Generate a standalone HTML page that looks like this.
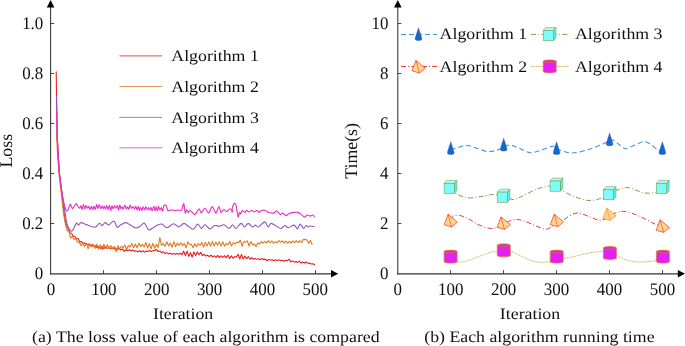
<!DOCTYPE html><html><head><meta charset="utf-8"><title>Figure</title><style>html,body{margin:0;padding:0;background:#fff}svg{display:block;will-change:transform;transform:translateZ(0)}text{text-rendering:geometricPrecision;font-family:"Liberation Serif","Times New Roman",serif;fill:#111}</style></head><body>
<svg width="685" height="346" viewBox="0 0 685 346">
<rect width="685" height="346" fill="#fff"/>
<path d="M56.20,71.70 L56.50,95.00 L56.80,115.00 L57.10,132.00 L57.90,150.00 L59.40,173.00 L63.00,203.25 L64.70,218.31 L66.40,225.15 L68.10,227.83 L69.80,232.83 L71.50,233.26 L73.20,236.09 L74.90,236.52 L76.60,238.70 L78.30,238.81 L80.00,241.96 L81.70,241.62 L83.40,243.56 L85.10,243.12 L86.80,244.71 L88.50,244.13 L90.20,246.05 L91.90,244.64 L93.60,246.40 L95.30,245.75 L97.00,247.50 L98.70,246.43 L100.40,248.33 L102.10,246.38 L103.80,248.67 L105.50,246.82 L107.20,248.47 L108.90,247.24 L110.60,248.43 L112.30,247.83 L114.00,249.07 L115.70,248.07 L117.40,249.69 L119.10,248.23 L120.80,250.04 L122.50,249.06 L124.20,251.30 L125.90,250.05 L127.60,250.69 L129.30,249.68 L131.00,251.02 L132.70,249.97 L134.40,251.39 L136.10,250.85 L137.80,251.92 L139.50,250.74 L141.20,252.01 L142.90,250.77 L144.60,252.15 L146.30,250.91 L148.00,251.57 L149.70,250.45 L151.40,251.62 L153.10,250.61 L154.80,250.47 L156.50,249.34 L158.20,251.66 L159.90,250.85 L161.60,252.72 L163.30,251.85 L165.00,253.52 L166.70,252.62 L168.40,253.85 L170.10,253.18 L171.80,254.25 L173.50,253.39 L175.20,254.34 L176.90,253.53 L178.60,254.29 L180.30,253.29 L182.00,254.74 L183.70,251.10 L185.40,255.46 L187.10,251.14 L188.80,256.42 L190.50,252.75 L192.20,257.01 L193.90,251.94 L195.60,255.58 L197.30,251.88 L199.00,254.85 L200.70,252.37 L202.40,255.58 L204.10,254.47 L205.80,256.04 L207.50,255.17 L209.20,256.63 L210.90,255.18 L212.60,256.91 L214.30,255.83 L216.00,257.36 L217.70,255.46 L219.40,257.64 L221.10,255.79 L222.80,257.33 L224.50,255.60 L226.20,257.83 L227.90,255.07 L229.60,258.63 L231.30,255.87 L233.00,258.25 L234.70,256.58 L236.40,257.29 L238.10,254.40 L239.80,258.98 L241.50,254.34 L243.20,259.00 L244.90,256.00 L246.60,258.60 L248.30,256.57 L250.00,259.25 L251.70,257.65 L253.40,259.25 L255.10,258.56 L256.80,259.24 L258.50,258.83 L260.20,259.79 L261.90,258.43 L263.60,259.57 L265.30,259.10 L267.00,260.74 L268.70,259.56 L270.40,260.24 L272.10,259.67 L273.80,260.63 L275.50,259.82 L277.20,260.64 L278.90,259.73 L280.60,260.64 L282.30,260.30 L284.00,261.41 L285.70,260.31 L287.40,260.63 L289.10,259.17 L290.80,261.84 L292.50,260.86 L294.20,262.15 L295.90,261.43 L297.60,262.42 L299.30,261.18 L301.00,262.97 L302.70,262.08 L304.40,263.08 L306.10,262.02 L307.80,263.25 L309.50,262.94 L311.20,264.02 L312.90,263.69 L314.60,264.67" fill="none" stroke="#ea1c1c" stroke-width="1.1" stroke-linejoin="round" stroke-linecap="round" />
<path d="M56.60,132.00 L57.30,150.00 L58.90,173.00 L63.60,213.75 L65.35,223.99 L67.10,230.44 L68.85,231.42 L70.60,238.01 L72.35,236.36 L74.10,239.44 L75.85,238.61 L77.60,242.30 L79.35,242.38 L81.10,245.58 L82.85,242.95 L84.60,246.43 L86.35,243.40 L88.10,248.83 L89.85,243.89 L91.60,246.83 L93.35,244.28 L95.10,248.42 L96.85,243.98 L98.60,249.01 L100.35,244.64 L102.10,249.63 L103.85,244.26 L105.60,248.44 L107.35,244.75 L109.10,248.27 L110.85,245.47 L112.60,248.49 L114.35,246.41 L116.10,251.84 L117.85,245.74 L119.60,248.99 L121.35,246.36 L123.10,247.71 L124.85,245.04 L126.60,249.83 L128.35,245.48 L130.10,247.01 L131.85,243.52 L133.60,247.66 L135.35,244.08 L137.10,247.82 L138.85,243.38 L140.60,246.59 L142.35,244.34 L144.10,246.96 L145.85,242.40 L147.60,248.15 L149.35,243.50 L151.10,248.82 L152.85,243.21 L154.60,248.29 L156.35,244.24 L158.10,247.52 L159.85,237.59 L161.60,245.46 L163.35,243.41 L165.10,246.43 L166.85,241.73 L168.60,246.02 L170.35,242.86 L172.10,247.20 L173.85,241.61 L175.60,246.79 L177.35,243.02 L179.10,245.35 L180.85,242.80 L182.60,245.78 L184.35,243.35 L186.10,247.80 L187.85,241.92 L189.60,244.50 L191.35,244.19 L193.10,247.70 L194.85,243.62 L196.60,246.69 L198.35,243.58 L200.10,245.30 L201.85,242.33 L203.60,247.16 L205.35,242.21 L207.10,246.10 L208.85,241.85 L210.60,246.38 L212.35,241.37 L214.10,246.02 L215.85,242.08 L217.60,245.16 L219.35,241.63 L221.10,246.10 L222.85,241.66 L224.60,246.17 L226.35,243.37 L228.10,244.79 L229.85,241.59 L231.60,245.92 L233.35,242.37 L235.10,244.04 L236.85,242.19 L238.60,242.56 L240.35,240.15 L242.10,246.24 L243.85,241.81 L245.60,242.12 L247.35,240.92 L249.10,246.01 L250.85,241.54 L252.60,244.86 L254.35,244.11 L256.10,246.62 L257.85,243.04 L259.60,243.91 L261.35,241.60 L263.10,243.02 L264.85,241.32 L266.60,243.09 L268.35,240.65 L270.10,242.76 L271.85,240.93 L273.60,243.29 L275.35,241.75 L277.10,242.79 L278.85,240.66 L280.60,242.18 L282.35,240.80 L284.10,242.97 L285.85,241.04 L287.60,243.12 L289.35,241.50 L291.10,242.97 L292.85,240.95 L294.60,242.58 L296.35,240.71 L298.10,242.72 L299.85,240.71 L301.60,242.74 L303.35,239.40 L305.10,239.59 L306.85,239.75 L308.60,243.37 L310.35,240.45 L312.10,244.45" fill="none" stroke="#e07a1e" stroke-width="1.1" stroke-linejoin="round" stroke-linecap="round" />
<path d="M56.50,95.00 C56.55,98.33 56.70,108.83 56.80,115.00 C56.90,121.17 56.92,126.17 57.10,132.00 C57.28,137.83 57.52,143.17 57.90,150.00 C58.28,156.83 58.65,165.50 59.40,173.00 C60.15,180.50 61.47,188.50 62.40,195.00 C63.33,201.50 64.22,207.08 65.00,212.00 C65.78,216.92 66.35,221.57 67.10,224.50 C67.85,227.43 68.72,228.50 69.50,229.60 C70.28,230.70 71.05,231.37 71.80,231.10 C72.55,230.83 73.23,229.35 74.00,228.00 C74.77,226.65 75.67,223.47 76.40,223.00 C77.13,222.53 77.63,225.27 78.40,225.20 C79.17,225.13 79.68,222.70 81.00,222.60 C82.32,222.50 84.00,223.83 86.30,224.60 C88.60,225.37 92.62,227.42 94.80,227.20 C96.98,226.98 98.20,223.58 99.40,223.30 C100.60,223.02 101.02,225.62 102.00,225.50 C102.98,225.38 104.20,222.68 105.30,222.60 C106.40,222.52 107.17,225.27 108.60,225.00 C110.03,224.73 112.47,220.63 113.90,221.00 C115.33,221.37 116.12,226.53 117.20,227.20 C118.28,227.87 118.98,225.77 120.40,225.00 C121.82,224.23 124.17,222.67 125.70,222.60 C127.23,222.53 127.95,223.72 129.60,224.60 C131.25,225.48 133.83,227.63 135.60,227.90 C137.37,228.17 138.73,226.98 140.20,226.20 C141.67,225.42 143.00,222.58 144.40,223.20 C145.80,223.82 147.15,229.15 148.60,229.90 C150.05,230.65 151.50,228.55 153.10,227.70 C154.70,226.85 156.73,225.40 158.20,224.80 C159.67,224.20 160.43,223.62 161.90,224.10 C163.37,224.58 165.05,227.75 167.00,227.70 C168.95,227.65 171.65,223.92 173.60,223.80 C175.55,223.68 177.00,227.07 178.70,227.00 C180.40,226.93 182.22,223.52 183.80,223.40 C185.38,223.28 186.62,225.33 188.20,226.30 C189.78,227.27 191.72,229.57 193.30,229.20 C194.88,228.83 196.37,224.22 197.70,224.10 C199.03,223.98 200.08,228.38 201.30,228.50 C202.52,228.62 203.53,224.73 205.00,224.80 C206.47,224.87 208.52,228.78 210.10,228.90 C211.68,229.02 212.92,225.93 214.50,225.50 C216.08,225.07 218.03,226.42 219.60,226.30 C221.17,226.18 222.32,224.47 223.90,224.80 C225.48,225.13 227.63,228.30 229.10,228.30 C230.57,228.30 231.58,224.77 232.70,224.80 C233.82,224.83 234.42,228.73 235.80,228.50 C237.18,228.27 239.53,223.65 241.00,223.40 C242.47,223.15 243.40,227.00 244.60,227.00 C245.80,227.00 246.87,223.40 248.20,223.40 C249.53,223.40 251.38,226.72 252.60,227.00 C253.82,227.28 254.52,225.10 255.50,225.10 C256.48,225.10 256.97,227.53 258.50,227.00 C260.03,226.47 263.08,221.90 264.70,221.90 C266.32,221.90 267.17,226.75 268.20,227.00 C269.23,227.25 269.72,223.65 270.90,223.40 C272.08,223.15 273.60,224.65 275.30,225.50 C277.00,226.35 279.53,228.50 281.10,228.50 C282.67,228.50 283.48,225.63 284.70,225.50 C285.92,225.37 286.82,227.77 288.40,227.70 C289.98,227.63 292.70,224.90 294.20,225.10 C295.70,225.30 296.42,229.07 297.40,228.90 C298.38,228.73 299.05,224.17 300.10,224.10 C301.15,224.03 302.73,228.27 303.70,228.50 C304.67,228.73 305.17,225.75 305.90,225.50 C306.63,225.25 307.37,226.92 308.10,227.00 C308.83,227.08 309.20,226.05 310.30,226.00 C311.40,225.95 313.97,226.58 314.70,226.70" fill="none" stroke="#9355c4" stroke-width="1.1" stroke-linejoin="round"/>
<path d="M56.80,111.00 C56.83,113.33 56.98,127.67 57.10,132.00 C57.22,136.33 57.64,145.44 57.90,150.00 C58.16,154.56 58.91,168.00 59.40,173.00 C59.89,178.00 61.64,191.06 62.30,195.00 C62.96,198.94 64.78,206.70 65.30,208.50 C65.82,210.30 66.63,211.22 67.00,211.20 C67.37,211.18 68.23,209.07 68.60,208.30 C68.97,207.53 69.99,204.47 70.30,204.30 C70.61,204.13 71.16,206.32 71.40,206.80 C71.64,207.28 72.17,208.69 72.50,208.60 C72.83,208.51 73.97,206.57 74.40,206.00 C74.83,205.43 76.00,203.44 76.40,203.50 C76.80,203.56 77.63,205.99 78.00,206.50 C78.37,207.01 79.38,208.18 79.70,208.10 C80.02,208.02 80.64,205.60 80.90,205.75 C81.16,205.90 81.79,209.57 82.06,209.44 C82.34,209.31 83.09,204.64 83.39,204.58 C83.69,204.53 84.45,208.89 84.74,208.97 C85.03,209.06 85.71,205.43 86.01,205.35 C86.31,205.26 87.15,208.16 87.43,208.25 C87.72,208.35 88.31,206.06 88.58,206.21 C88.86,206.36 89.64,209.61 89.95,209.63 C90.26,209.65 91.07,206.39 91.39,206.39 C91.70,206.38 92.51,209.62 92.79,209.57 C93.07,209.53 93.67,205.98 93.93,205.98 C94.19,205.97 94.85,209.67 95.16,209.52 C95.46,209.37 96.35,204.69 96.65,204.60 C96.96,204.51 97.64,208.71 97.92,208.71 C98.21,208.71 98.92,204.62 99.22,204.60 C99.51,204.58 100.27,208.38 100.58,208.52 C100.90,208.67 101.79,205.87 102.09,205.90 C102.38,205.93 102.97,208.76 103.23,208.80 C103.48,208.83 104.09,206.19 104.36,206.23 C104.63,206.26 105.38,209.24 105.65,209.13 C105.92,209.03 106.51,205.25 106.79,205.31 C107.07,205.37 107.87,209.68 108.17,209.67 C108.47,209.66 109.23,205.12 109.52,205.24 C109.80,205.35 110.47,210.62 110.74,210.69 C111.00,210.75 111.63,206.03 111.89,205.84 C112.16,205.65 112.83,209.00 113.10,208.97 C113.37,208.93 114.06,205.62 114.36,205.54 C114.67,205.46 115.49,208.22 115.81,208.22 C116.14,208.23 116.99,205.36 117.30,205.58 C117.61,205.81 118.32,210.31 118.58,210.25 C118.85,210.19 119.42,205.22 119.69,205.03 C119.96,204.84 120.70,208.38 120.99,208.57 C121.27,208.76 121.97,206.67 122.23,206.75 C122.50,206.83 123.09,209.47 123.38,209.29 C123.67,209.12 124.51,205.22 124.83,205.18 C125.15,205.14 125.95,208.75 126.25,208.93 C126.55,209.11 127.26,206.76 127.54,206.80 C127.83,206.84 128.54,209.49 128.82,209.31 C129.10,209.12 129.78,205.25 130.09,205.14 C130.39,205.02 131.23,208.07 131.57,208.27 C131.90,208.46 132.76,206.83 133.11,206.90 C133.45,206.97 134.35,208.99 134.65,208.92 C134.95,208.86 135.50,206.15 135.78,206.27 C136.06,206.39 136.87,209.97 137.15,209.99 C137.43,210.00 138.06,206.34 138.32,206.41 C138.57,206.48 139.20,210.52 139.45,210.61 C139.71,210.70 140.30,207.22 140.58,207.20 C140.87,207.18 141.74,210.50 142.03,210.45 C142.32,210.40 142.91,206.80 143.20,206.74 C143.50,206.68 144.41,209.91 144.70,209.89 C144.99,209.86 145.54,206.53 145.82,206.52 C146.10,206.50 146.92,209.63 147.21,209.75 C147.49,209.86 148.13,207.49 148.41,207.55 C148.68,207.61 149.43,210.33 149.71,210.31 C149.99,210.29 150.61,207.34 150.89,207.38 C151.17,207.43 151.91,210.85 152.23,210.71 C152.55,210.58 153.46,206.16 153.78,206.17 C154.10,206.17 154.84,210.73 155.11,210.78 C155.39,210.84 155.98,206.64 156.24,206.66 C156.50,206.68 157.21,210.99 157.48,210.97 C157.74,210.95 158.35,206.55 158.62,206.45 C158.90,206.36 159.64,210.01 159.94,210.13 C160.24,210.25 161.03,207.42 161.32,207.53 C161.60,207.65 162.23,211.38 162.52,211.18 C162.81,210.97 163.48,206.31 163.90,205.68 C164.32,205.06 165.85,205.01 166.28,205.55 C166.70,206.08 167.17,210.02 167.74,210.51 C168.30,211.00 170.58,209.93 171.39,209.93 C172.20,209.93 174.27,210.49 175.04,210.51 C175.80,210.53 177.52,210.11 178.25,210.07 C178.98,210.04 180.99,210.93 181.61,210.22 C182.22,209.51 183.39,203.33 183.80,203.65 C184.20,203.97 184.93,212.49 185.26,213.14 C185.58,213.79 186.39,209.57 186.72,209.49 C187.04,209.41 187.77,212.30 188.18,212.41 C188.58,212.52 189.64,210.27 190.36,210.51 C191.09,210.75 193.77,214.79 194.74,214.60 C195.72,214.40 198.39,208.92 199.12,208.76 C199.85,208.60 200.67,213.22 201.31,213.14 C201.96,213.06 204.15,208.03 204.96,208.03 C205.77,208.03 207.80,213.30 208.61,213.14 C209.42,212.98 211.45,206.57 212.26,206.57 C213.07,206.57 215.18,213.14 215.91,213.14 C216.64,213.14 218.26,206.65 218.83,206.57 C219.40,206.49 220.45,212.08 221.02,212.41 C221.59,212.73 223.29,209.57 223.94,209.49 C224.59,209.41 226.21,211.76 226.86,211.68 C227.51,211.60 229.13,208.84 229.78,208.76 C230.43,208.68 232.48,210.62 232.70,210.95 C232.92,211.27 231.65,212.44 231.75,211.68 C231.86,210.92 233.20,204.90 233.65,204.09 C234.10,203.28 235.35,202.97 235.84,204.38 C236.33,205.79 237.62,215.90 238.03,216.79 C238.43,217.68 239.21,212.73 239.49,212.41 C239.76,212.08 240.19,214.08 240.51,213.87 C240.84,213.66 241.95,210.67 242.41,210.51 C242.86,210.35 244.11,212.44 244.60,212.41 C245.09,212.38 246.30,210.27 246.79,210.22 C247.27,210.17 248.41,211.97 248.98,211.97 C249.55,211.97 251.33,210.22 251.90,210.22 C252.47,210.22 253.52,211.97 254.09,211.97 C254.66,211.97 256.44,210.17 257.01,210.22 C257.58,210.27 258.71,212.38 259.20,212.41 C259.68,212.44 260.74,210.75 261.39,210.51 C262.04,210.27 264.23,210.01 265.04,210.22 C265.85,210.43 267.96,212.12 268.69,212.41 C269.42,212.70 271.04,212.77 271.61,212.85 C272.17,212.93 273.23,213.35 273.80,213.14 C274.36,212.93 275.99,210.79 276.72,210.95 C277.45,211.11 279.72,214.36 280.36,214.60 C281.01,214.84 281.91,213.03 282.55,213.14 C283.20,213.25 285.47,215.59 286.20,215.62 C286.93,215.65 288.23,213.79 289.12,213.43 C290.02,213.07 293.26,212.52 294.23,212.41 C295.21,212.30 297.07,212.17 297.88,212.41 C298.69,212.65 300.80,214.08 301.53,214.60 C302.26,215.12 303.80,217.03 304.45,217.08 C305.10,217.13 306.72,215.15 307.37,215.04 C308.02,214.92 309.64,216.06 310.29,216.06 C310.94,216.06 312.73,214.87 313.21,215.04 C313.70,215.20 314.51,217.24 314.67,217.52" fill="none" stroke="#ee2fc6" stroke-width="1.15" stroke-linejoin="round"/>
<path d="M50.6,274.45 V5" stroke="#333" stroke-width="1.05" fill="none"/>
<path d="M49.980000000000004,273.8 H333.2" stroke="#333" stroke-width="1.15" fill="none"/>
<path d="M50.6,0 L54.4,7.4 L46.800000000000004,7.4 Z" fill="#000"/>
<path d="M338.2,273.8 L331.0,270.1 L331.0,277.5 Z" fill="#000"/>
<path d="M103.5,273.8 v-3.6" stroke="#333" stroke-width="0.9" fill="none"/>
<path d="M156.5,273.8 v-3.6" stroke="#333" stroke-width="0.9" fill="none"/>
<path d="M209.5,273.8 v-3.6" stroke="#333" stroke-width="0.9" fill="none"/>
<path d="M262.5,273.8 v-3.6" stroke="#333" stroke-width="0.9" fill="none"/>
<path d="M315.5,273.8 v-3.6" stroke="#333" stroke-width="0.9" fill="none"/>
<path d="M50.6,223.50 h3.6" stroke="#333" stroke-width="0.9" fill="none"/>
<path d="M50.6,173.50 h3.6" stroke="#333" stroke-width="0.9" fill="none"/>
<path d="M50.6,123.50 h3.6" stroke="#333" stroke-width="0.9" fill="none"/>
<path d="M50.6,73.50 h3.6" stroke="#333" stroke-width="0.9" fill="none"/>
<path d="M50.6,23.50 h3.6" stroke="#333" stroke-width="0.9" fill="none"/>
<text transform="translate(43.30,279.00) scale(0.957,1)" font-size="17.7" text-anchor="end">0</text>
<text transform="translate(43.30,229.00) scale(0.957,1)" font-size="17.7" text-anchor="end">0.2</text>
<text transform="translate(43.30,179.00) scale(0.957,1)" font-size="17.7" text-anchor="end">0.4</text>
<text transform="translate(43.30,129.00) scale(0.957,1)" font-size="17.7" text-anchor="end">0.6</text>
<text transform="translate(43.30,79.00) scale(0.957,1)" font-size="17.7" text-anchor="end">0.8</text>
<text transform="translate(43.30,29.00) scale(0.957,1)" font-size="17.7" text-anchor="end">1.0</text>
<text transform="translate(51.00,295.20) scale(0.957,1)" font-size="17.7" text-anchor="middle">0</text>
<text transform="translate(103.86,295.20) scale(0.957,1)" font-size="17.7" text-anchor="middle">100</text>
<text transform="translate(156.72,295.20) scale(0.957,1)" font-size="17.7" text-anchor="middle">200</text>
<text transform="translate(209.58,295.20) scale(0.957,1)" font-size="17.7" text-anchor="middle">300</text>
<text transform="translate(262.44,295.20) scale(0.957,1)" font-size="17.7" text-anchor="middle">400</text>
<text transform="translate(315.30,295.20) scale(0.957,1)" font-size="17.7" text-anchor="middle">500</text>
<text transform="translate(183.1,319) scale(1.1125,1)" font-size="16.0" text-anchor="middle">Iteration</text>
<text transform="translate(12.1,150.7) rotate(-90) scale(0.999,1)" font-size="17.8" text-anchor="middle">Loss</text>
<text transform="translate(32,341.5) scale(1.1125,1)" font-size="16.0" text-anchor="start">(a) The loss value of each algorithm is compared</text>
<path d="M119.4,55.9 H162.2" stroke="#ea1c1c" stroke-width="1" stroke-opacity="0.8" fill="none"/>
<text transform="translate(171.3,60.9) scale(1.1125,1)" font-size="16.0" text-anchor="start">Algorithm 1</text>
<path d="M119.4,86.5 H162.2" stroke="#e07a1e" stroke-width="1" stroke-opacity="0.8" fill="none"/>
<text transform="translate(171.3,91.9) scale(1.1125,1)" font-size="16.0" text-anchor="start">Algorithm 2</text>
<path d="M119.4,117.4 H162.2" stroke="#9355c4" stroke-width="1" stroke-opacity="0.8" fill="none"/>
<text transform="translate(171.3,122.7) scale(1.1125,1)" font-size="16.0" text-anchor="start">Algorithm 3</text>
<path d="M119.4,147.8 H162.2" stroke="#ee2fc6" stroke-width="1" stroke-opacity="0.8" fill="none"/>
<text transform="translate(171.3,153.4) scale(1.1125,1)" font-size="16.0" text-anchor="start">Algorithm 4</text>
<path d="M397.8,274.45 V5" stroke="#333" stroke-width="1.05" fill="none"/>
<path d="M397.18,273.8 H680" stroke="#333" stroke-width="1.15" fill="none"/>
<path d="M397.8,0 L401.6,7.4 L394.0,7.4 Z" fill="#000"/>
<path d="M685,273.8 L677.8,270.1 L677.8,277.5 Z" fill="#000"/>
<path d="M450.5,273.8 v-3.6" stroke="#333" stroke-width="0.9" fill="none"/>
<path d="M503.5,273.8 v-3.6" stroke="#333" stroke-width="0.9" fill="none"/>
<path d="M556.5,273.8 v-3.6" stroke="#333" stroke-width="0.9" fill="none"/>
<path d="M609.5,273.8 v-3.6" stroke="#333" stroke-width="0.9" fill="none"/>
<path d="M662.5,273.8 v-3.6" stroke="#333" stroke-width="0.9" fill="none"/>
<path d="M397.8,223.50 h3.6" stroke="#333" stroke-width="0.9" fill="none"/>
<path d="M397.8,173.50 h3.6" stroke="#333" stroke-width="0.9" fill="none"/>
<path d="M397.8,123.50 h3.6" stroke="#333" stroke-width="0.9" fill="none"/>
<path d="M397.8,73.50 h3.6" stroke="#333" stroke-width="0.9" fill="none"/>
<path d="M397.8,23.50 h3.6" stroke="#333" stroke-width="0.9" fill="none"/>
<text transform="translate(388.50,279.00) scale(0.957,1)" font-size="17.7" text-anchor="end">0</text>
<text transform="translate(388.50,229.00) scale(0.957,1)" font-size="17.7" text-anchor="end">2</text>
<text transform="translate(388.50,179.00) scale(0.957,1)" font-size="17.7" text-anchor="end">4</text>
<text transform="translate(388.50,129.00) scale(0.957,1)" font-size="17.7" text-anchor="end">6</text>
<text transform="translate(388.50,79.00) scale(0.957,1)" font-size="17.7" text-anchor="end">8</text>
<text transform="translate(388.50,29.00) scale(0.957,1)" font-size="17.7" text-anchor="end">10</text>
<text transform="translate(397.80,295.20) scale(0.957,1)" font-size="17.7" text-anchor="middle">0</text>
<text transform="translate(450.72,295.20) scale(0.957,1)" font-size="17.7" text-anchor="middle">100</text>
<text transform="translate(503.64,295.20) scale(0.957,1)" font-size="17.7" text-anchor="middle">200</text>
<text transform="translate(556.56,295.20) scale(0.957,1)" font-size="17.7" text-anchor="middle">300</text>
<text transform="translate(609.48,295.20) scale(0.957,1)" font-size="17.7" text-anchor="middle">400</text>
<text transform="translate(662.40,295.20) scale(0.957,1)" font-size="17.7" text-anchor="middle">500</text>
<text transform="translate(530,319) scale(1.1125,1)" font-size="16.0" text-anchor="middle">Iteration</text>
<text transform="translate(356.6,150.9) rotate(-90) scale(0.999,1)" font-size="17.8" text-anchor="middle">Time(s)</text>
<text transform="translate(424.2,341.5) scale(1.1125,1)" font-size="16.0" text-anchor="start">(b) Each algorithm running time</text>
<path d="M450.70,149.50 C451.42,149.33 453.12,149.03 455.00,148.50 C456.88,147.97 459.67,146.77 462.00,146.30 C464.33,145.83 466.33,145.32 469.00,145.70 C471.67,146.08 474.92,147.62 478.00,148.60 C481.08,149.58 484.50,151.30 487.50,151.60 C490.50,151.90 493.30,151.08 496.00,150.40 C498.70,149.72 501.87,148.32 503.70,147.50 C505.53,146.68 505.62,145.85 507.00,145.50 C508.38,145.15 509.83,144.85 512.00,145.40 C514.17,145.95 516.93,147.58 520.00,148.80 C523.07,150.02 526.90,152.47 530.40,152.70 C533.90,152.93 537.40,151.25 541.00,150.20 C544.60,149.15 549.38,146.85 552.00,146.40 C554.62,145.95 555.37,146.87 556.70,147.50 C558.03,148.13 557.35,149.28 560.00,150.20 C562.65,151.12 567.60,153.20 572.60,153.00 C577.60,152.80 584.43,150.73 590.00,149.00 C595.57,147.27 602.73,144.02 606.00,142.60 C609.27,141.18 608.35,140.90 609.60,140.50 C610.85,140.10 611.93,139.53 613.50,140.20 C615.07,140.87 616.95,143.08 619.00,144.50 C621.05,145.92 623.13,148.62 625.80,148.70 C628.47,148.78 631.97,146.18 635.00,145.00 C638.03,143.82 641.33,141.68 644.00,141.60 C646.67,141.52 648.67,143.10 651.00,144.50 C653.33,145.90 656.10,149.08 658.00,150.00 C659.90,150.92 661.67,150.00 662.40,150.00" fill="none" stroke="#3f95da" stroke-width="1.1" stroke-linejoin="round" stroke-dasharray="5,3"/>
<path d="M450.70,188.00 C451.58,188.95 453.95,192.27 456.00,193.70 C458.05,195.13 460.67,195.90 463.00,196.60 C465.33,197.30 466.83,197.93 470.00,197.90 C473.17,197.87 478.00,196.98 482.00,196.40 C486.00,195.82 490.33,194.47 494.00,194.40 C497.67,194.33 500.83,195.15 504.00,196.00 C507.17,196.85 510.00,199.45 513.00,199.50 C516.00,199.55 518.17,197.97 522.00,196.30 C525.83,194.63 531.50,191.22 536.00,189.50 C540.50,187.78 545.58,186.50 549.00,186.00 C552.42,185.50 554.33,185.75 556.50,186.50 C558.67,187.25 558.92,188.78 562.00,190.50 C565.08,192.22 570.50,195.13 575.00,196.80 C579.50,198.47 584.50,200.30 589.00,200.50 C593.50,200.70 598.58,199.08 602.00,198.00 C605.42,196.92 607.00,195.33 609.50,194.00 C612.00,192.67 614.12,191.08 617.00,190.00 C619.88,188.92 623.63,187.47 626.80,187.50 C629.97,187.53 632.97,189.28 636.00,190.20 C639.03,191.12 641.83,192.62 645.00,193.00 C648.17,193.38 652.10,193.25 655.00,192.50 C657.90,191.75 661.17,189.17 662.40,188.50" fill="none" stroke="#74a352" stroke-width="1.0" stroke-linejoin="round" stroke-dasharray="5,2.2,1,2.2"/>
<path d="M450.70,220.00 C451.17,219.33 452.03,216.75 453.50,216.00 C454.97,215.25 457.08,215.08 459.50,215.50 C461.92,215.92 464.92,217.00 468.00,218.50 C471.08,220.00 474.45,222.87 478.00,224.50 C481.55,226.13 486.13,227.80 489.30,228.30 C492.47,228.80 494.72,228.05 497.00,227.50 C499.28,226.95 501.17,226.00 503.00,225.00 C504.83,224.00 505.62,222.42 508.00,221.50 C510.38,220.58 513.97,219.33 517.30,219.50 C520.63,219.67 523.47,220.90 528.00,222.50 C532.53,224.10 540.50,228.43 544.50,229.10 C548.50,229.77 549.92,227.52 552.00,226.50 C554.08,225.48 555.17,224.00 557.00,223.00 C558.83,222.00 560.83,221.75 563.00,220.50 C565.17,219.25 567.38,216.75 570.00,215.50 C572.62,214.25 575.37,212.75 578.70,213.00 C582.03,213.25 586.58,215.80 590.00,217.00 C593.42,218.20 596.53,219.95 599.20,220.20 C601.87,220.45 604.03,219.37 606.00,218.50 C607.97,217.63 609.17,216.00 611.00,215.00 C612.83,214.00 614.88,213.10 617.00,212.50 C619.12,211.90 620.87,211.15 623.70,211.40 C626.53,211.65 630.45,212.73 634.00,214.00 C637.55,215.27 641.50,217.33 645.00,219.00 C648.50,220.67 652.10,222.83 655.00,224.00 C657.90,225.17 661.17,225.67 662.40,226.00" fill="none" stroke="#ee3434" stroke-width="1.0" stroke-linejoin="round" stroke-dasharray="5,2.2,1,2.2"/>
<path d="M450.70,258.00 C451.75,258.58 455.28,260.83 457.00,261.50 C458.72,262.17 459.17,262.13 461.00,262.00 C462.83,261.87 464.83,261.70 468.00,260.70 C471.17,259.70 476.33,257.33 480.00,256.00 C483.67,254.67 487.17,253.53 490.00,252.70 C492.83,251.87 494.67,251.45 497.00,251.00 C499.33,250.55 501.72,250.00 504.00,250.00 C506.28,250.00 508.37,250.25 510.70,251.00 C513.03,251.75 514.78,252.97 518.00,254.50 C521.22,256.03 526.33,258.90 530.00,260.20 C533.67,261.50 536.58,262.07 540.00,262.30 C543.42,262.53 547.67,261.98 550.50,261.60 C553.33,261.22 554.85,260.47 557.00,260.00 C559.15,259.53 560.40,259.42 563.40,258.80 C566.40,258.18 570.57,257.30 575.00,256.30 C579.43,255.30 585.33,253.65 590.00,252.80 C594.67,251.95 599.67,251.42 603.00,251.20 C606.33,250.98 607.73,250.88 610.00,251.50 C612.27,252.12 613.93,253.52 616.60,254.90 C619.27,256.28 622.43,258.62 626.00,259.80 C629.57,260.98 634.33,261.70 638.00,262.00 C641.67,262.30 644.92,261.85 648.00,261.60 C651.08,261.35 654.10,261.10 656.50,260.50 C658.90,259.90 661.42,258.42 662.40,258.00" fill="none" stroke="#cfa02f" stroke-width="0.95" stroke-linejoin="round" stroke-dasharray="0.9,0.75"/>
<path d="M450.8,141.7 C451.6,144.7 453.90000000000003,150.6 454.2,153.0 C454.2,155.0 447.40000000000003,155.0 447.40000000000003,153.0 C447.7,150.6 450.0,144.7 450.8,141.7 Z" fill="#0b6ccb" stroke="#5a48b8" stroke-width="0.45"/>
<path d="M503.7,138.2 C504.5,141.2 506.8,147.1 507.09999999999997,149.5 C507.09999999999997,151.5 500.3,151.5 500.3,149.5 C500.59999999999997,147.1 502.9,141.2 503.7,138.2 Z" fill="#0b6ccb" stroke="#5a48b8" stroke-width="0.45"/>
<path d="M556.6,141.7 C557.4,144.7 559.7,150.6 560.0,153.0 C560.0,155.0 553.2,155.0 553.2,153.0 C553.5,150.6 555.8000000000001,144.7 556.6,141.7 Z" fill="#0b6ccb" stroke="#5a48b8" stroke-width="0.45"/>
<path d="M609.6,133.0 C610.4,136.0 612.7,141.9 613.0,144.3 C613.0,146.3 606.2,146.3 606.2,144.3 C606.5,141.9 608.8000000000001,136.0 609.6,133.0 Z" fill="#0b6ccb" stroke="#5a48b8" stroke-width="0.45"/>
<path d="M662.4,141.7 C663.1999999999999,144.7 665.5,150.6 665.8,153.0 C665.8,155.0 659.0,155.0 659.0,153.0 C659.3,150.6 661.6,144.7 662.4,141.7 Z" fill="#0b6ccb" stroke="#5a48b8" stroke-width="0.45"/>
<path d="M444.1,183.3 l2.5,-2.9 h10.2 l-2.5,2.9 Z" fill="#b4fbfb" stroke="#6f9b45" stroke-width="0.55" stroke-linejoin="round"/>
<path d="M454.3,183.3 l2.5,-2.9 v10.2 l-2.5,2.9 Z" fill="#4ff3f3" stroke="#6f9b45" stroke-width="0.55" stroke-linejoin="round"/>
<rect x="444.1" y="183.3" width="10.2" height="10.2" fill="#7ffbfb" stroke="#6f9b45" stroke-width="0.55"/>
<path d="M497.2,192.1 l2.5,-2.9 h10.2 l-2.5,2.9 Z" fill="#b4fbfb" stroke="#6f9b45" stroke-width="0.55" stroke-linejoin="round"/>
<path d="M507.4,192.1 l2.5,-2.9 v10.2 l-2.5,2.9 Z" fill="#4ff3f3" stroke="#6f9b45" stroke-width="0.55" stroke-linejoin="round"/>
<rect x="497.2" y="192.1" width="10.2" height="10.2" fill="#7ffbfb" stroke="#6f9b45" stroke-width="0.55"/>
<path d="M550.1,181.0 l2.5,-2.9 h10.2 l-2.5,2.9 Z" fill="#b4fbfb" stroke="#6f9b45" stroke-width="0.55" stroke-linejoin="round"/>
<path d="M560.3000000000001,181.0 l2.5,-2.9 v10.2 l-2.5,2.9 Z" fill="#4ff3f3" stroke="#6f9b45" stroke-width="0.55" stroke-linejoin="round"/>
<rect x="550.1" y="181.0" width="10.2" height="10.2" fill="#7ffbfb" stroke="#6f9b45" stroke-width="0.55"/>
<path d="M603.3,189.6 l2.5,-2.9 h10.2 l-2.5,2.9 Z" fill="#b4fbfb" stroke="#6f9b45" stroke-width="0.55" stroke-linejoin="round"/>
<path d="M613.5,189.6 l2.5,-2.9 v10.2 l-2.5,2.9 Z" fill="#4ff3f3" stroke="#6f9b45" stroke-width="0.55" stroke-linejoin="round"/>
<rect x="603.3" y="189.6" width="10.2" height="10.2" fill="#7ffbfb" stroke="#6f9b45" stroke-width="0.55"/>
<path d="M656.4,183.3 l2.5,-2.9 h10.2 l-2.5,2.9 Z" fill="#b4fbfb" stroke="#6f9b45" stroke-width="0.55" stroke-linejoin="round"/>
<path d="M666.6,183.3 l2.5,-2.9 v10.2 l-2.5,2.9 Z" fill="#4ff3f3" stroke="#6f9b45" stroke-width="0.55" stroke-linejoin="round"/>
<rect x="656.4" y="183.3" width="10.2" height="10.2" fill="#7ffbfb" stroke="#6f9b45" stroke-width="0.55"/>
<path d="M448.1,214.3 L444.20000000000005,224.70000000000002 L451.6,226.9 L457.40000000000003,222.10000000000002 Z" fill="#ffd88a" stroke="#ee2f2f" stroke-width="0.7" stroke-linejoin="round"/>
<path d="M448.1,214.3 L451.6,226.9" stroke="#ee2f2f" stroke-width="0.6" fill="none"/>
<path d="M501.0,216.9 L497.1,227.3 L504.5,229.5 L510.3,224.70000000000002 Z" fill="#ffd88a" stroke="#ee2f2f" stroke-width="0.7" stroke-linejoin="round"/>
<path d="M501.0,216.9 L504.5,229.5" stroke="#ee2f2f" stroke-width="0.6" fill="none"/>
<path d="M554.2,214.1 L550.3000000000001,224.5 L557.7,226.7 L563.5,221.9 Z" fill="#ffd88a" stroke="#ee2f2f" stroke-width="0.7" stroke-linejoin="round"/>
<path d="M554.2,214.1 L557.7,226.7" stroke="#ee2f2f" stroke-width="0.6" fill="none"/>
<path d="M606.8,208.0 L602.9,218.4 L610.3,220.6 L616.0999999999999,215.8 Z" fill="#ffd48a" stroke="#ee9130" stroke-width="0.7" stroke-linejoin="round"/>
<path d="M606.8,208.0 L610.3,220.6" stroke="#ee9130" stroke-width="0.6" fill="none"/>
<path d="M660.1,219.8 L656.2,230.20000000000002 L663.6,232.4 L669.4,227.60000000000002 Z" fill="#ffd88a" stroke="#ee2f2f" stroke-width="0.7" stroke-linejoin="round"/>
<path d="M660.1,219.8 L663.6,232.4" stroke="#ee2f2f" stroke-width="0.6" fill="none"/>
<path d="M444.1,251.60000000000002 V261.8 A6.5,1.3 0 0 0 457.1,261.8 V251.60000000000002 A6.5,1.3 0 0 0 444.1,251.60000000000002 Z" fill="#e31ff2" stroke="#de7f2e" stroke-width="0.8"/>
<ellipse cx="450.6" cy="251.60000000000002" rx="6.5" ry="1.3" fill="#d727dc" stroke="#de7f2e" stroke-width="0.6"/>
<path d="M497.3,245.3 V255.5 A6.5,1.3 0 0 0 510.3,255.5 V245.3 A6.5,1.3 0 0 0 497.3,245.3 Z" fill="#e31ff2" stroke="#de7f2e" stroke-width="0.8"/>
<ellipse cx="503.8" cy="245.3" rx="6.5" ry="1.3" fill="#d727dc" stroke="#de7f2e" stroke-width="0.6"/>
<path d="M550.2,251.60000000000002 V261.8 A6.5,1.3 0 0 0 563.2,261.8 V251.60000000000002 A6.5,1.3 0 0 0 550.2,251.60000000000002 Z" fill="#e31ff2" stroke="#de7f2e" stroke-width="0.8"/>
<ellipse cx="556.7" cy="251.60000000000002" rx="6.5" ry="1.3" fill="#d727dc" stroke="#de7f2e" stroke-width="0.6"/>
<path d="M603.4,248.0 V258.2 A6.5,1.3 0 0 0 616.4,258.2 V248.0 A6.5,1.3 0 0 0 603.4,248.0 Z" fill="#e31ff2" stroke="#de7f2e" stroke-width="0.8"/>
<ellipse cx="609.9" cy="248.0" rx="6.5" ry="1.3" fill="#d727dc" stroke="#de7f2e" stroke-width="0.6"/>
<path d="M656.4,251.60000000000002 V261.8 A6.5,1.3 0 0 0 669.4,261.8 V251.60000000000002 A6.5,1.3 0 0 0 656.4,251.60000000000002 Z" fill="#e31ff2" stroke="#de7f2e" stroke-width="0.8"/>
<ellipse cx="662.9" cy="251.60000000000002" rx="6.5" ry="1.3" fill="#d727dc" stroke="#de7f2e" stroke-width="0.6"/>
<path d="M401,34.4 H437" stroke="#3f95da" stroke-width="1.05" stroke-dasharray="5,3" fill="none"/>
<path d="M418.5,27.7 C419.3,30.7 421.6,36.6 421.9,39.0 C421.9,41.0 415.1,41.0 415.1,39.0 C415.4,36.6 417.7,30.7 418.5,27.7 Z" fill="#0b6ccb" stroke="#5a48b8" stroke-width="0.45"/>
<text transform="translate(439.6,39.3) scale(1.1125,1)" font-size="16.0" text-anchor="start">Algorithm 1</text>
<path d="M531,34.4 H568" stroke="#74a352" stroke-width="1.0" stroke-dasharray="5,2.2,1,2.2" fill="none"/>
<path d="M543.2,30.5 l2.5,-2.9 h10.2 l-2.5,2.9 Z" fill="#b4fbfb" stroke="#6f9b45" stroke-width="0.55" stroke-linejoin="round"/>
<path d="M553.4000000000001,30.5 l2.5,-2.9 v10.2 l-2.5,2.9 Z" fill="#4ff3f3" stroke="#6f9b45" stroke-width="0.55" stroke-linejoin="round"/>
<rect x="543.2" y="30.5" width="10.2" height="10.2" fill="#7ffbfb" stroke="#6f9b45" stroke-width="0.55"/>
<text transform="translate(575,39.3) scale(1.1125,1)" font-size="16.0" text-anchor="start">Algorithm 3</text>
<path d="M401,66.5 H439.6" stroke="#ee3434" stroke-width="1.0" stroke-dasharray="5,2.2,1,2.2" fill="none"/>
<path d="M415.9,60.4 L412.0,70.8 L419.4,73.0 L425.2,68.2 Z" fill="#ffd88a" stroke="#ee2f2f" stroke-width="0.7" stroke-linejoin="round"/>
<path d="M415.9,60.4 L419.4,73.0" stroke="#ee2f2f" stroke-width="0.6" fill="none"/>
<text transform="translate(439.6,71.8) scale(1.1125,1)" font-size="16.0" text-anchor="start">Algorithm 2</text>
<path d="M531,66.5 H569" stroke="#cfa02f" stroke-width="0.95" stroke-dasharray="0.9,0.75" fill="none"/>
<path d="M543.2,61.4 V71.60000000000001 A6.5,1.3 0 0 0 556.2,71.60000000000001 V61.4 A6.5,1.3 0 0 0 543.2,61.4 Z" fill="#e31ff2" stroke="#de7f2e" stroke-width="0.8"/>
<ellipse cx="549.7" cy="61.4" rx="6.5" ry="1.3" fill="#d727dc" stroke="#de7f2e" stroke-width="0.6"/>
<text transform="translate(575,71.8) scale(1.1125,1)" font-size="16.0" text-anchor="start">Algorithm 4</text>
</svg></body></html>
